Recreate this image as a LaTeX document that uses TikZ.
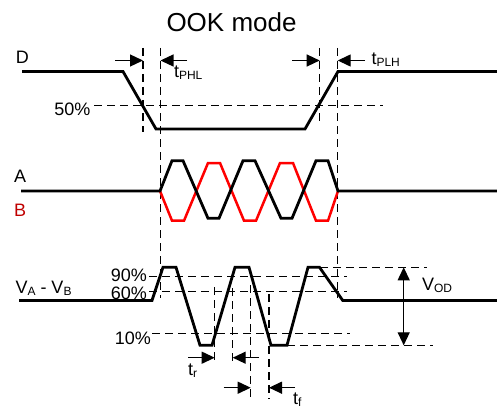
\documentclass[tikz,border=0pt]{standalone}
\usepackage{fontspec}
\setmainfont{Liberation Sans}
\usetikzlibrary{arrows.meta}
\newcommand{\lowsub}[1]{\raisebox{-2.5pt}{\fontsize{12}{12}\selectfont #1}}
\definecolor{wavered}{HTML}{FF0000}
\definecolor{labelred}{HTML}{C00000}
\tikzset{
  wave/.style={line width=2.8pt,line join=miter,black},
  redwave/.style={line width=2.5pt,line join=miter,wavered},
  guide/.style={line width=1.2pt,black,dash pattern=on 8pt off 5pt},
  dim/.style={line width=1.3pt,black,-{Triangle[length=13pt,width=12pt]}},
  dimboth/.style={line width=1.3pt,black,{Triangle[length=13pt,width=12pt]}-{Triangle[length=13pt,width=12pt]}},
  lbl/.style={inner sep=0pt,outer sep=0pt,anchor=base west,font=\fontsize{18}{18}\selectfont},
  lblr/.style={lbl,anchor=base east}
}
\begin{document}
\begin{tikzpicture}[x=1pt,y=-1pt]
\useasboundingbox (0,0) rectangle (497,409);
% guides
\draw[guide] (143,48) -- (143,132);
\draw[guide] (160.5,48) -- (160.5,298);
\draw[guide] (319.7,48) -- (319.7,122);
\draw[guide] (337.7,48) -- (337.7,298);
\draw[guide] (94,105.5) -- (383,105.5);
\draw[guide] (320,267.3) -- (427,267.3);
\draw[guide] (149,276.7) -- (347,276.7);
\draw[guide] (149,291.7) -- (347,291.7);
\draw[guide] (152,333.7) -- (350,333.7);
\draw[guide] (287,345.3) -- (433,345.3);
\draw[guide] (214.7,287) -- (214.7,362);
\draw[guide] (232.7,288) -- (232.7,363);
\draw[guide] (250.7,285) -- (250.7,399);
\draw[guide] (269,294) -- (269,399);
% waves
\draw[wave] (22,71.5) -- (123,71.5) -- (156,129) -- (305,129) -- (338,71.5) -- (497,71.5);
\draw[redwave] (160,191) -- (172,220.7) -- (184,220.7) -- (208,163) -- (220,163) -- (244,220.7) -- (256,220.7) -- (280,163) -- (293,163) -- (316,220.7) -- (328,220.7) -- (338,191);
\draw[wave] (21,191) -- (160,191) -- (172,160.7) -- (183,160.7) -- (208,218.3) -- (219,218.3) -- (243,160.7) -- (255,160.7) -- (281,218.3) -- (292,218.3) -- (316,160.7) -- (328,160.7) -- (338,191) -- (497,191);
\draw[wave] (19,300.4) -- (152,300.4) -- (163,267.3) -- (176,267.3) -- (200,345.3) -- (212,345.3) -- (235,267.3) -- (249,267.3) -- (271,345.3) -- (287,345.3) -- (308,267.3) -- (319.5,267.3) -- (342.7,300.4) -- (497,300.4);
% dimension arrows
\draw[dim] (115,60.5) -- (143,60.5);
\draw[dim] (187,60.5) -- (160.5,60.5);
\draw[dim] (292,60.5) -- (319.7,60.5);
\draw[dim] (365,60.5) -- (337.7,60.5);
\draw[dim] (188,357.7) -- (214.7,357.7);
\draw[dim] (259,357.7) -- (232.7,357.7);
\draw[dim] (223.7,387.7) -- (250.7,387.7);
\draw[dim] (295,387.7) -- (269,387.7);
\draw[dimboth] (403.7,267.3) -- (403.7,345.3);
% labels
\node[lbl,font=\fontsize{26}{26}\selectfont] (title) at (166.5,32) {OOK mode};
\node[lbl] (d) at (16,64) {D};
\node[lbl] (a) at (14,182) {A};
\node[lbl,text=labelred] (b) at (14,216) {B};
\node[lbl] (vab) at (15.5,293) {V\lowsub{A} - V\lowsub{B}};
\node[lbl] (vod) at (422,290) {V\lowsub{OD}};
\node[lbl] (tphl) at (174,77.5) {t\lowsub{PHL}};
\node[lbl] (tplh) at (371.5,64.5) {t\lowsub{PLH}};
\node[lbl] (tr) at (188,375) {t\lowsub{r}};
\node[lbl] (tf) at (293,404) {t\lowsub{f}};
\node[lblr] (p50) at (90.5,115) {50\%};
\node[lblr] (p90) at (147,281.5) {90\%};
\node[lblr] (p60) at (147,299) {60\%};
\node[lblr] (p10) at (151,344) {10\%};
\end{tikzpicture}
\end{document}
